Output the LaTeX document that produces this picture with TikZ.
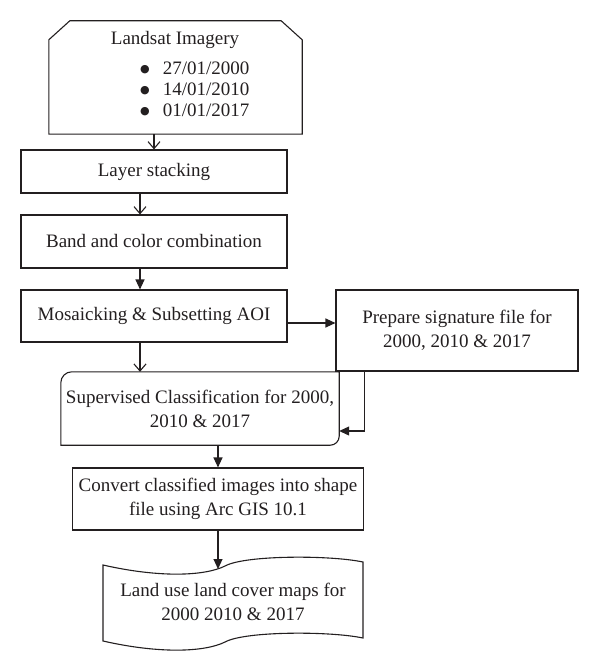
\documentclass[tikz,border=0pt]{standalone}
\usepackage{fontspec}
\setmainfont{Liberation Serif}
\newfontfamily\symfont{DejaVu Sans}
\usetikzlibrary{arrows.meta}
\definecolor{ink}{HTML}{231F20}
\newcommand{\bigbul}{\raisebox{1.5pt}{\symfont\fontsize{11}{13}\selectfont ●}}
\begin{document}
\begin{tikzpicture}[x=1pt,y=-1pt,
  every node/.style={inner sep=0pt, text=ink, font=\fontsize{19}{24}\selectfont},
  boxshape/.style={draw=ink, line width=1.1pt, minimum width=#1},
  plainshape/.style={minimum width=#1},
  lineink/.style={draw=ink, line width=1.1pt},
  openarr/.style={lineink, -{Straight Barb[length=7pt,width=12pt,line width=1.1pt]}},
  fillarr/.style={lineink, -{Triangle[length=10pt,width=9pt]}}
]
\useasboundingbox (0,0) rectangle (600,671);
% Landsat chamfered box
\node[plainshape=253pt, minimum height=113pt] (land) at (175.5,77.5) {};
\draw[lineink] ([xshift=21pt]land.north west) -- ([xshift=-21pt]land.north east)
  -- ([yshift=-19pt]land.north east) -- (land.south east) -- (land.south west)
  -- ([yshift=-19pt]land.north west) -- cycle;
\node (ltitle) at (175,40) {Landsat Imagery};
\node[anchor=west, font=\fontsize{19}{21}\selectfont] (ldates) at (140,91)
  {\begin{tabular}{@{}l@{\hspace{13pt}}l@{}}\bigbul & 27/01/2000\\ \bigbul & 14/01/2010\\ \bigbul & 01/01/2017\end{tabular}};
% boxes
\node[boxshape=266pt, minimum height=43pt] (layer) at (154,171.5) {Layer stacking};
\node[boxshape=266pt, minimum height=53pt] (band) at (154,241.5) {Band and color combination};
\node[boxshape=266pt, minimum height=52pt] (mosaic) at (154,316) {Mosaicking \& Subsetting AOI};
\node[boxshape=242pt, minimum height=81pt, align=center] (prep) at (457,330.5) {Prepare signature file for\\2000, 2010 \& 2017};
\node[plainshape=278pt, minimum height=73pt, align=center] (sup) at (200,408.5) {Supervised Classification for 2000,\\2010 \& 2017};
\draw[lineink] (sup.north east) -- ([yshift=9pt]sup.south east) arc[start angle=0,end angle=-90,radius=9pt]
  -- (sup.south west) -- ([yshift=-11pt]sup.north west) arc[start angle=180,end angle=90,radius=11pt] -- cycle;
\node[boxshape=291pt, minimum height=62pt, align=center] (conv) at (218,499) {Convert classified images into shape\\file using Arc GIS 10.1};
% document shape
\node[plainshape=260pt, minimum height=76pt, align=center] (doc) at (233,602) {Land use land cover maps for\\2000 2010 \& 2017};
\draw[lineink] (103,565) .. controls (160,578) and (205,576) .. (225,566)
  .. controls (245,555) and (330,555) .. (363,562) -- (363,638)
  .. controls (330,631) and (245,631) .. (225,642)
  .. controls (205,652) and (160,654) .. (103,641) -- cycle;
\coordinate (doctop) at (218,569);
% connectors
\draw[openarr] (land.south -| layer.north) -- (layer.north);
\draw[openarr] ([xshift=-14pt]layer.south) -- ([xshift=-14pt]band.north);
\draw[fillarr] ([xshift=-14pt]band.south) -- ([xshift=-14pt]mosaic.north);
\draw[fillarr] ([yshift=-7pt]mosaic.east) -- ([yshift=-7pt]mosaic.east -| prep.west);
\draw[openarr] ([xshift=-14pt]mosaic.south) -- ([xshift=-14pt]mosaic.south |- sup.north);
\draw[fillarr] ([xshift=29pt]prep.south west) |- ([yshift=-22.5pt]sup.east);
\draw[fillarr] (sup.south -| conv.north) -- (conv.north);
\draw[fillarr] (conv.south) -- (doctop);
\end{tikzpicture}
\end{document}
